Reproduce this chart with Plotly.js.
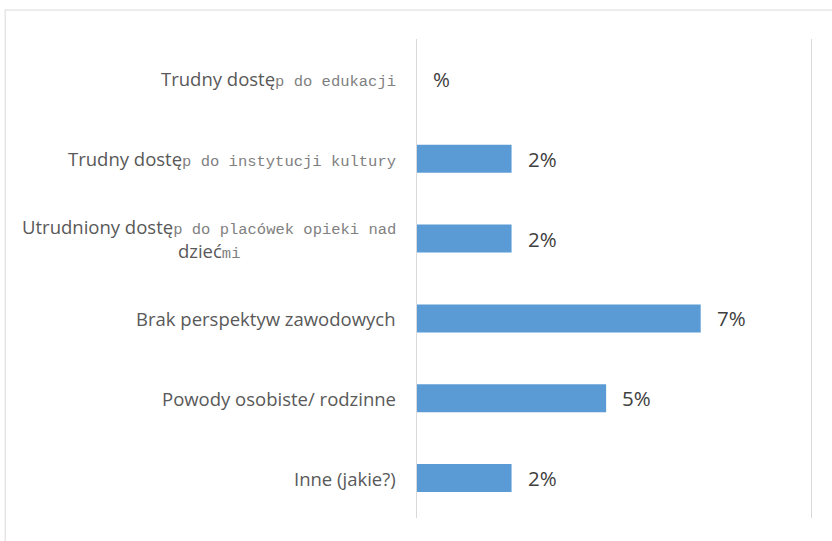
<!DOCTYPE html>
<html>
<head>
<meta charset="utf-8">
<script src="https://cdn.plot.ly/plotly-3.0.1.min.js"></script>
<style>html,body{margin:0;padding:0;background:#fff;}#chart{width:832px;height:541px;}</style>
</head>
<body>
<div id="chart"></div>
<script>
// Data
const categories = [
  "Trudny dostęp do edukacji",
  "Trudny dostęp do instytucji kultury",
  "Utrudniony dostęp do placówek opieki nad dziećmi",
  "Brak perspektyw zawodowych",
  "Powody osobiste/ rodzinne",
  "Inne (jakie?)"
];
// Displayed category labels (as rendered in the original, incl. line break)
const categoryLabels = [
  "Trudny dostę<span style=\"font-family:'Liberation Mono';font-size:15.5px;fill:#7f7f7f\">p do edukacji</span>",
  "Trudny dostę<span style=\"font-family:'Liberation Mono';font-size:15.5px;fill:#7f7f7f\">p do instytucji kultury</span>",
  "Utrudniony dostę<span style=\"font-family:'Liberation Mono';font-size:15.5px;fill:#7f7f7f\">p do placówek opieki nad</span><br>dzieć<span style=\"font-family:'Liberation Mono';font-size:15.5px;fill:#7f7f7f\">mi</span>",
  "Brak perspektyw zawodowych",
  "Powody osobiste/ rodzinne",
  "Inne (jakie?)"
];
const values = [0, 2.4, 2.4, 7.2, 4.8, 2.4];   // percent
const valueLabels = ["%", "2%", "2%", "7%", "5%", "2%"];

const annotations = [];
categories.forEach((c, i) => {
  annotations.push({
    x: 0, xref: 'paper', y: c, yref: 'y',
    text: categoryLabels[i], showarrow: false,
    xanchor: 'right', yanchor: 'middle', align: 'center',
    xshift: -19,
    font: {family: 'Open Sans', size: 18.5, color: '#595959'}
  });
  annotations.push({
    x: values[i], xref: 'x', y: c, yref: 'y',
    text: valueLabels[i], showarrow: false,
    xanchor: 'left', yanchor: 'middle',
    xshift: 14,
    font: {family: 'Open Sans', size: 20.5, color: '#404040'}
  });
});

const trace = {
  type: 'bar', orientation: 'h',
  x: values, y: categories,
  marker: {color: '#5b9bd5'},
  hoverinfo: 'none'
};

const layout = {
  width: 832, height: 541,
  margin: {l: 417, r: 19, t: 39, b: 23},
  paper_bgcolor: '#ffffff', plot_bgcolor: '#ffffff',
  showlegend: false,
  bargap: 0.65,
  xaxis: {
    range: [0, 10.05], tickvals: [0, 10], showgrid: true, gridcolor: '#d9d9d9', gridwidth: 1,
    showticklabels: false, zeroline: false, showline: false, ticks: '', fixedrange: true
  },
  yaxis: {
    autorange: 'reversed', showticklabels: false, ticks: '',
    showline: true, linecolor: '#d9d9d9', linewidth: 1, showgrid: false, zeroline: false
  },
  annotations: annotations,
  shapes: [{
    type: 'rect', xref: 'paper', yref: 'paper',
    x0: -1.04, x1: 1.08, y0: -0.07, y1: 1.0605,
    line: {color: '#d9d9d9', width: 1}, fillcolor: 'rgba(0,0,0,0)', layer: 'below'
  }]
};

Plotly.newPlot('chart', [trace], layout, {displayModeBar: false, staticPlot: true});
</script>
</body>
</html>
